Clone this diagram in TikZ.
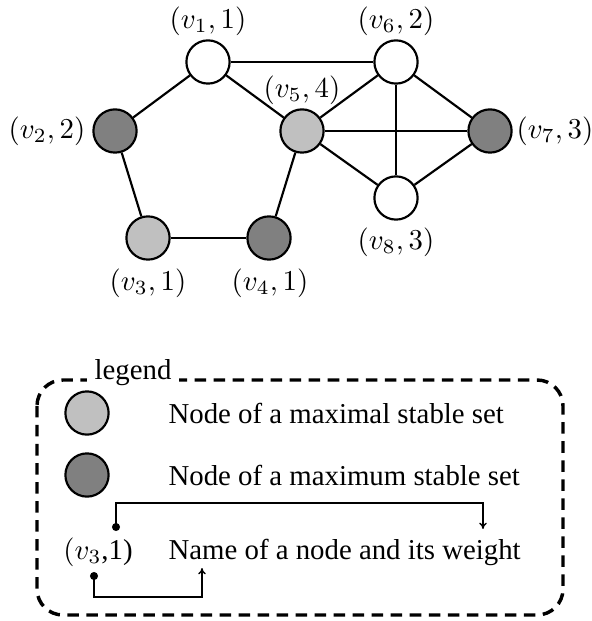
\documentclass[tikz,border=0pt]{standalone}
\usepackage[no-math]{fontspec}
\setmainfont{Liberation Serif}
\usetikzlibrary{arrows.meta}
\definecolor{lightg}{HTML}{C0C0C0}
\definecolor{darkg}{HTML}{808080}
\tikzset{
  vtx/.style={circle, draw, line width=0.75pt, minimum size=15pt, inner sep=0pt},
  vwhite/.style={vtx, fill=white},
  vlight/.style={vtx, fill=lightg},
  vdark/.style={vtx, fill=darkg},
  edge/.style={line width=0.75pt},
  lbl/.style={inner sep=0pt, font=\fontsize{10}{12}\selectfont},
  legtext/.style={anchor=west, inner sep=0pt, font=\fontsize{10}{12}\selectfont},
  pointer/.style={line width=0.45pt, -{To[length=2.2pt,width=2.6pt]}},
  dotc/.style={circle, fill=black, inner sep=0pt, minimum size=2.8pt},
}
\begin{document}
\begin{tikzpicture}[x=0.347pt, y=-0.347pt]
\useasboundingbox (0,0) rectangle (591,621);
% graph nodes
\node[vwhite] (v1) at (208,62) {};
\node[vwhite] (v6) at (396,62) {};
\node[vdark]  (v2) at (115,131) {};
\node[vlight] (v5) at (302,131) {};
\node[vdark]  (v7) at (490,131) {};
\node[vwhite] (v8) at (396,198) {};
\node[vlight] (v3) at (148,238) {};
\node[vdark]  (v4) at (269,238) {};
% labels
\node[lbl] (l1) at (208,21) {$(v_1,1)$};
\node[lbl] (l6) at (396,21) {$(v_6,2)$};
\node[lbl] (l5) at (302,90) {$(v_5,4)$};
\node[lbl] (l2) at (47,131) {$(v_2,2)$};
\node[lbl] (l7) at (555,131) {$(v_7,3)$};
\node[lbl] (l8) at (396,242) {$(v_8,3)$};
\node[lbl] (l3) at (148,283) {$(v_3,1)$};
\node[lbl] (l4) at (270,283) {$(v_4,1)$};
% edges
\draw[edge] (v1) -- (v2);
\draw[edge] (v1) -- (v5);
\draw[edge] (v1) -- (v6);
\draw[edge] (v2) -- (v3);
\draw[edge] (v3) -- (v4);
\draw[edge] (v4) -- (v5);
\draw[edge] (v5) -- (v6);
\draw[edge] (v5) -- (v7);
\draw[edge] (v5) -- (v8);
\draw[edge] (v6) -- (v7);
\draw[edge] (v6) -- (v8);
\draw[edge] (v7) -- (v8);
% legend box
\draw[line width=1.2pt, dash pattern=on 4pt off 2.6pt, rounded corners=9pt] (37,380) rectangle (563,615);
\node[fill=white, inner sep=2.6pt, font=\fontsize{10}{12}\selectfont] (legtitle) at (133,373) {legend};
\node[vlight] (lc1) at (87,413) {};
\node[vdark]  (lc2) at (87,475) {};
\node[legtext] (t1) at (168,413) {Node of a maximal stable set};
\node[legtext] (t2) at (168,475) {Node of a maximum stable set};
\node[lbl] (t3a) at (98,552) {$(v_3$,1)};
\node[legtext] (t3) at (168,552) {Name of a node and its weight};
% pointers
\node[dotc] (d1) at (116,527) {};
\node[dotc] (d2) at (94,576) {};
\coordinate (a1) at (483,529);
\coordinate (a2) at (202,568);
\draw[pointer] (d1.center) -- (116,503) -| (a1);
\draw[pointer] (d2.center) -- (94,597) -| (a2);
\end{tikzpicture}
\end{document}
